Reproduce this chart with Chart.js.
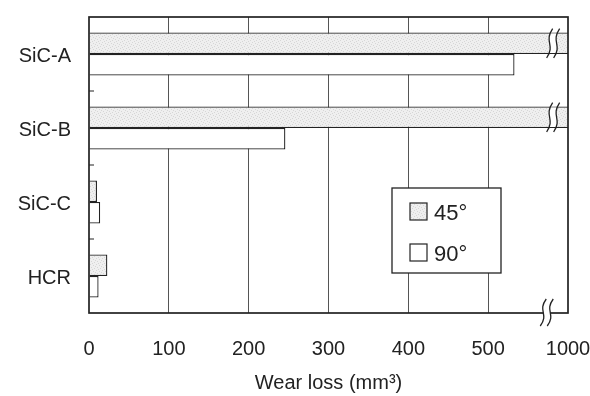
<!DOCTYPE html>
<html><head><meta charset="utf-8">
<script src="https://cdn.jsdelivr.net/npm/chart.js@4"></script>
<style>html,body{margin:0;padding:0;background:#fff}</style>
</head><body>
<canvas id="c" width="590" height="396"></canvas>
<script>
const categories = ['SiC-A', 'SiC-B', 'SiC-C', 'HCR'];
const seriesLabels = ['45°', '90°'];
const wear45 = [1000, 1000, 10, 23];
const wear90 = [533, 246, 14, 12];
const xTickValues = [0, 100, 200, 300, 400, 500, 600];
const xTickLabels = ['0', '100', '200', '300', '400', '500', '1000'];
const axisTitle = 'Wear loss (mm³)';

const INK = '#222';
const FONT = "'Liberation Sans', Arial, sans-serif";

// stippled light-gray fill for the 45° series
function makeStipple() {
  const c = document.createElement('canvas');
  c.width = 6; c.height = 6;
  const g = c.getContext('2d');
  g.fillStyle = '#efefef'; g.fillRect(0, 0, 6, 6);
  g.fillStyle = '#d6d6d6';
  [[0,0],[3,1],[1,3],[4,4],[5,2],[2,5]].forEach(([x,y]) => g.fillRect(x, y, 1, 1));
  return g.createPattern(c, 'repeat');
}
const stipple = makeStipple();

function breakMark(ctx, xc, y0, y1, fy0, fy1, gap) {
  const a = 3, h = y1 - y0;
  const curve = (dx) => {
    ctx.moveTo(xc + a + dx, y0);
    ctx.bezierCurveTo(xc - a - 3 + dx, y0 + h * 0.45, xc + a + 3 + dx, y1 - h * 0.45, xc - a + dx, y1);
  };
  ctx.save();
  ctx.beginPath();
  ctx.rect(xc - 10, fy0, gap + 20, fy1 - fy0);
  ctx.clip();
  ctx.beginPath();
  ctx.moveTo(xc + a, y0);
  ctx.bezierCurveTo(xc - a - 3, y0 + h * 0.45, xc + a + 3, y1 - h * 0.45, xc - a, y1);
  ctx.lineTo(xc - a + gap, y1);
  ctx.bezierCurveTo(xc + a + 3 + gap, y1 - h * 0.45, xc - a - 3 + gap, y0 + h * 0.45, xc + a + gap, y0);
  ctx.closePath();
  ctx.fillStyle = '#fff';
  ctx.fill();
  ctx.restore();
  ctx.beginPath();
  curve(0); curve(gap);
  ctx.strokeStyle = INK; ctx.lineWidth = 1.3;
  ctx.stroke();
}

const decor = {
  id: 'decor',
  afterDatasetsDraw(chart) {
    const ctx = chart.ctx, ca = chart.chartArea;
    const xs = chart.scales.x, ys = chart.scales.y;
    ctx.save();
    ctx.strokeStyle = INK; ctx.lineWidth = 1.7;
    ctx.strokeRect(ca.left, ca.top, ca.right - ca.left, ca.bottom - ca.top);
    ctx.lineWidth = 1.2;
    ctx.beginPath();
    for (let i = 0; i < categories.length - 1; i++) {
      const y = (ys.getPixelForValue(i) + ys.getPixelForValue(i + 1)) / 2;
      ctx.moveTo(ca.left, y); ctx.lineTo(ca.left + 5, y);
    }
    ctx.stroke();
    chart.data.datasets.forEach((ds, di) => {
      const meta = chart.getDatasetMeta(di);
      ds.data.forEach((v, j) => {
        if (v > xs.max) {
          const bar = meta.data[j];
          const t = bar.y - bar.height / 2, b = bar.y + bar.height / 2;
          breakMark(ctx, xs.getPixelForValue(577), t - 4, b + 4, t + 1, b - 1, 7);
        }
      });
    });
    breakMark(ctx, xs.getPixelForValue(569), ca.bottom - 14, ca.bottom + 13, ca.bottom - 3, ca.bottom + 3, 7);
    const L = ca.right - 176, T = ca.top + 171, W = 109, H = 85;
    ctx.fillStyle = '#fff';
    ctx.fillRect(L, T, W, H);
    ctx.strokeStyle = INK; ctx.lineWidth = 1.3;
    ctx.strokeRect(L, T, W, H);
    chart.data.datasets.forEach((ds, i) => {
      const sx = L + 18, sy = T + 15 + i * 41;
      ctx.fillStyle = ds.backgroundColor;
      ctx.fillRect(sx, sy, 17, 17);
      ctx.strokeStyle = INK; ctx.lineWidth = 1.2;
      ctx.strokeRect(sx, sy, 17, 17);
      ctx.fillStyle = INK;
      ctx.font = '22px ' + FONT;
      ctx.textBaseline = 'alphabetic';
      ctx.textAlign = 'left';
      ctx.fillText(ds.label, sx + 24, sy + 17);
    });
    ctx.restore();
  }
};

new Chart(document.getElementById('c'), {
  type: 'bar',
  data: {
    labels: categories,
    datasets: [
      { label: seriesLabels[0], data: wear45, backgroundColor: stipple, borderColor: INK, borderWidth: 1.3, clip: 0 },
      { label: seriesLabels[1], data: wear90, backgroundColor: '#fff', borderColor: INK, borderWidth: 1.3, clip: 0 }
    ]
  },
  options: {
    indexAxis: 'y',
    responsive: false,
    animation: false,
    devicePixelRatio: 1,
    layout: { padding: { top: 17, right: 22, left: 0, bottom: 0 } },
    datasets: { bar: { barPercentage: 1, categoryPercentage: 0.58 } },
    plugins: { legend: { display: false }, tooltip: { enabled: false } },
    scales: {
      x: {
        type: 'linear', min: 0, max: 600,
        afterBuildTicks: (s) => { s.ticks = xTickValues.map(v => ({ value: v })); },
        afterFit: (s) => { s.height = 83; s.paddingLeft = 0; s.paddingRight = 0; },
        ticks: {
          callback: (v) => xTickLabels[xTickValues.indexOf(v)],
          color: INK, font: { family: FONT, size: 20 }, padding: 24, maxRotation: 0, autoSkip: false
        },
        grid: {
          drawTicks: false,
          color: (c) => (c.tick && (c.tick.value === 0 || c.tick.value === 600)) ? 'rgba(0,0,0,0)' : '#555',
          lineWidth: 1
        },
        border: { display: false },
        title: { display: true, text: axisTitle, color: INK, font: { family: FONT, size: 20 }, padding: { top: 0, bottom: 1 } }
      },
      y: {
        type: 'category',
        afterFit: (s) => { s.width = 89; s.paddingTop = 0; s.paddingBottom = 0; },
        ticks: { color: INK, font: { family: FONT, size: 20 }, padding: 18, labelOffset: 2 },
        grid: { display: false, drawTicks: false },
        border: { display: false }
      }
    }
  },
  plugins: [decor]
});
</script>
</body></html>
